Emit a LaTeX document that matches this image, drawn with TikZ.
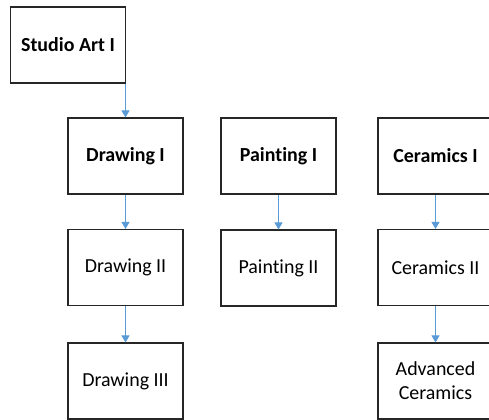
\documentclass[tikz,border=0pt]{standalone}
\usepackage{fontspec}
\setmainfont[Ligatures=NoCommon]{Carlito}
\usetikzlibrary{arrows.meta}

\definecolor{linkblue}{RGB}{91,155,213}
\tikzset{
  course/.style={draw=black!85, line width=1.1bp, fill=white, minimum width=115bp,
    minimum height=76bp, inner sep=2bp, align=center, font=\fontsize{20}{24}\selectfont},
  first/.style={course, font=\fontsize{20}{24}\selectfont\bfseries},
  prereq/.style={draw=linkblue, line width=0.9bp,
    -{Triangle[width=8bp,length=7bp,fill=linkblue]}}
}

\begin{document}
\begin{tikzpicture}[x=1bp,y=-1bp]
    % page
    \useasboundingbox (0,0) rectangle (489,419);
    \clip (0,0) rectangle (489,419);

    % courses
    \node[first] (studio) at (68,45) {Studio Art I};
    \node[first] (draw1) at (125.5,156) {Drawing I};
    \node[first] (paint1) at (278.5,156) {Painting I};
    \node[first] (ceram1) at (435.5,156) {Ceramics I};
    \node[course] (draw2) at (125.5,267.5) {Drawing II};
    \node[course] (paint2) at (278.5,268) {Painting II};
    \node[course] (ceram2) at (435.5,267.5) {Ceramics II};
    \node[course] (draw3) at (125.5,381) {Drawing III};
    \node[course] (ceram3) at (435.5,381) {Advanced\\Ceramics};

    % arrows
    \draw[prereq] (draw1.north |- studio.south) -- (draw1.north);
    \draw[prereq] (draw1) -- (draw2);
    \draw[prereq] (draw2) -- (draw3);
    \draw[prereq] (paint1) -- (paint2);
    \draw[prereq] (ceram1) -- (ceram2);
    \draw[prereq] (ceram2) -- (ceram3);
\end{tikzpicture}
\end{document}
